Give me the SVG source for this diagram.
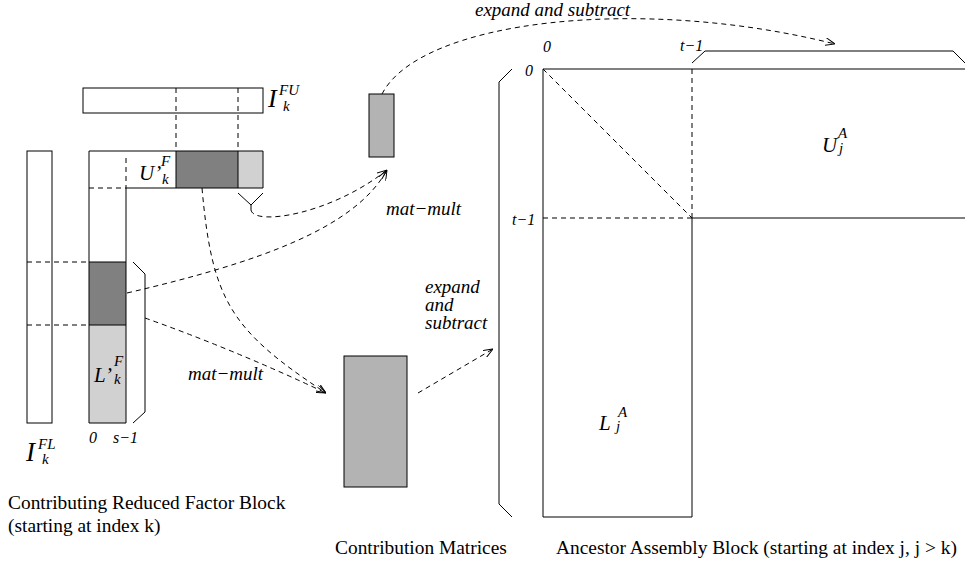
<svg xmlns="http://www.w3.org/2000/svg" width="965" height="569" viewBox="0 0 965 569">
<style>
.ln{fill:none;stroke:#000;stroke-width:1}
.ds{fill:none;stroke:#000;stroke-width:1;stroke-dasharray:5,4}
.t{font-family:"Liberation Serif","Times New Roman",serif;fill:#000}
.i{font-style:italic}
.dk{fill:#808080}
.lt{fill:#d1d1d1}
.md{fill:#b3b3b3;stroke:#000;stroke-width:1}
</style>
<defs>
<marker id="arr" viewBox="0 0 10 8" refX="10" refY="4" markerWidth="10" markerHeight="8" markerUnits="userSpaceOnUse" orient="auto">
<path d="M0,0 L10,4 L0,8" fill="none" stroke="#000" stroke-width="1"/>
</marker>
</defs>
<rect width="965" height="569" fill="#fff"/>

<g id="IFU">
<rect x="83" y="88" width="180" height="25" class="ln"/>
<path d="M176,88 V151 M238,88 V151" class="ds"/>
<text class="t i" x="268" y="107" font-size="26">I</text>
<text class="t i" x="279" y="95" font-size="15">FU</text>
<text class="t i" x="283" y="111" font-size="15">k</text>
</g>

<g id="IFL">
<rect x="27" y="151" width="25" height="272" class="ln"/>
<path d="M27,262 H89 M27,325 H89" class="ds"/>
<text class="t i" x="26" y="461" font-size="27">I</text>
<text class="t i" x="38" y="449" font-size="15">FL</text>
<text class="t i" x="42" y="464" font-size="15">k</text>
</g>

<g id="Uprime">
<rect x="176" y="151" width="62" height="37" class="dk"/>
<rect x="238" y="151" width="25" height="37" class="lt"/>
<path d="M89,151 H263 V188 H126 M176,151 V188 M238,151 V188" class="ln"/>
<path d="M89,188 H126 M126,158 V188" class="ds"/>
<path d="M238,193 L251,205 L263,193 M251,205 V210" class="ln"/>
<text class="t i" x="139" y="180" font-size="21">U’</text>
<text class="t i" x="161" y="166" font-size="15">F</text>
<text class="t i" x="162" y="184" font-size="15">k</text>
</g>

<g id="Lprime">
<rect x="89" y="262" width="37" height="63" class="dk"/>
<rect x="89" y="325" width="37" height="98" class="lt"/>
<path d="M89,151 V423 H126 V188 M89,262 H126 M89,325 H126" class="ln"/>
<path d="M133,262 L145,274 V412 L133,423" class="ln"/>
<text class="t i" x="94" y="382" font-size="21">L’</text>
<text class="t i" x="114" y="366" font-size="15">F</text>
<text class="t i" x="114" y="384" font-size="15">k</text>
<text class="t i" x="89" y="443" font-size="16">0</text>
<text class="t i" x="113" y="443" font-size="16">s−1</text>
</g>

<g id="contribSmall">
<rect x="369" y="94" width="25" height="63" class="md"/>
</g>

<g id="contribBig">
<rect x="344" y="356" width="63" height="131" class="md"/>
</g>

<g id="ancestor">
<path d="M965,69 H543 V517 H692 V218 H965" class="ln"/>
<path d="M543,69 L692,218 M692,69 V218 M543,218 H692" class="ds"/>
<path d="M692,63 L705,51 H953 L965,63" class="ln"/>
<path d="M512,69 L499,82 V504 L512,517" class="ln"/>
<text class="t i" x="543" y="52" font-size="16">0</text>
<text class="t i" x="680" y="51" font-size="16">t−1</text>
<text class="t i" x="525" y="76" font-size="16">0</text>
<text class="t i" x="512" y="225" font-size="16">t−1</text>
<text class="t i" x="822" y="152" font-size="21">U</text>
<text class="t i" x="838" y="138" font-size="15">A</text>
<text class="t i" x="839" y="153" font-size="15">j</text>
<text class="t i" x="599" y="430" font-size="21">L</text>
<text class="t i" x="618" y="417" font-size="15">A</text>
<text class="t i" x="616" y="431" font-size="15">j</text>
</g>

<g id="connectors">
<path d="M382,94 C420,20 640,-5 835,44" class="ds" marker-end="url(#arr)"/>
<path d="M251,210 C254,226 330,215 387,170" class="ds" marker-end="url(#arr)"/>
<path d="M127,293 C260,262 355,228 387,170" class="ds" marker-end="url(#arr)"/>
<path d="M202,188 C212,300 230,330 326,393" class="ds" marker-end="url(#arr)"/>
<path d="M145,318 Q235,350 326,393" class="ds" marker-end="url(#arr)"/>
<path d="M418,393 L493,349" class="ds" marker-end="url(#arr)"/>
<text class="t i" x="475" y="16" font-size="19">expand and subtract</text>
<text class="t i" x="386" y="215" font-size="19">mat−mult</text>
<text class="t i" x="188" y="380" font-size="19">mat−mult</text>
<text class="t i" x="425" y="293" font-size="19"><tspan x="425" y="293">expand</tspan><tspan x="425" y="311">and</tspan><tspan x="425" y="329">subtract</tspan></text>
</g>

<g id="captions">
<text class="t" x="8" y="509" font-size="19.4">Contributing Reduced Factor Block</text>
<text class="t" x="8" y="532" font-size="19.4">(starting at index k)</text>
<text class="t" x="335" y="554" font-size="19.4">Contribution Matrices</text>
<text class="t" x="556" y="554" font-size="19.4">Ancestor Assembly Block (starting at index j, j &gt; k)</text>
</g>
</svg>
